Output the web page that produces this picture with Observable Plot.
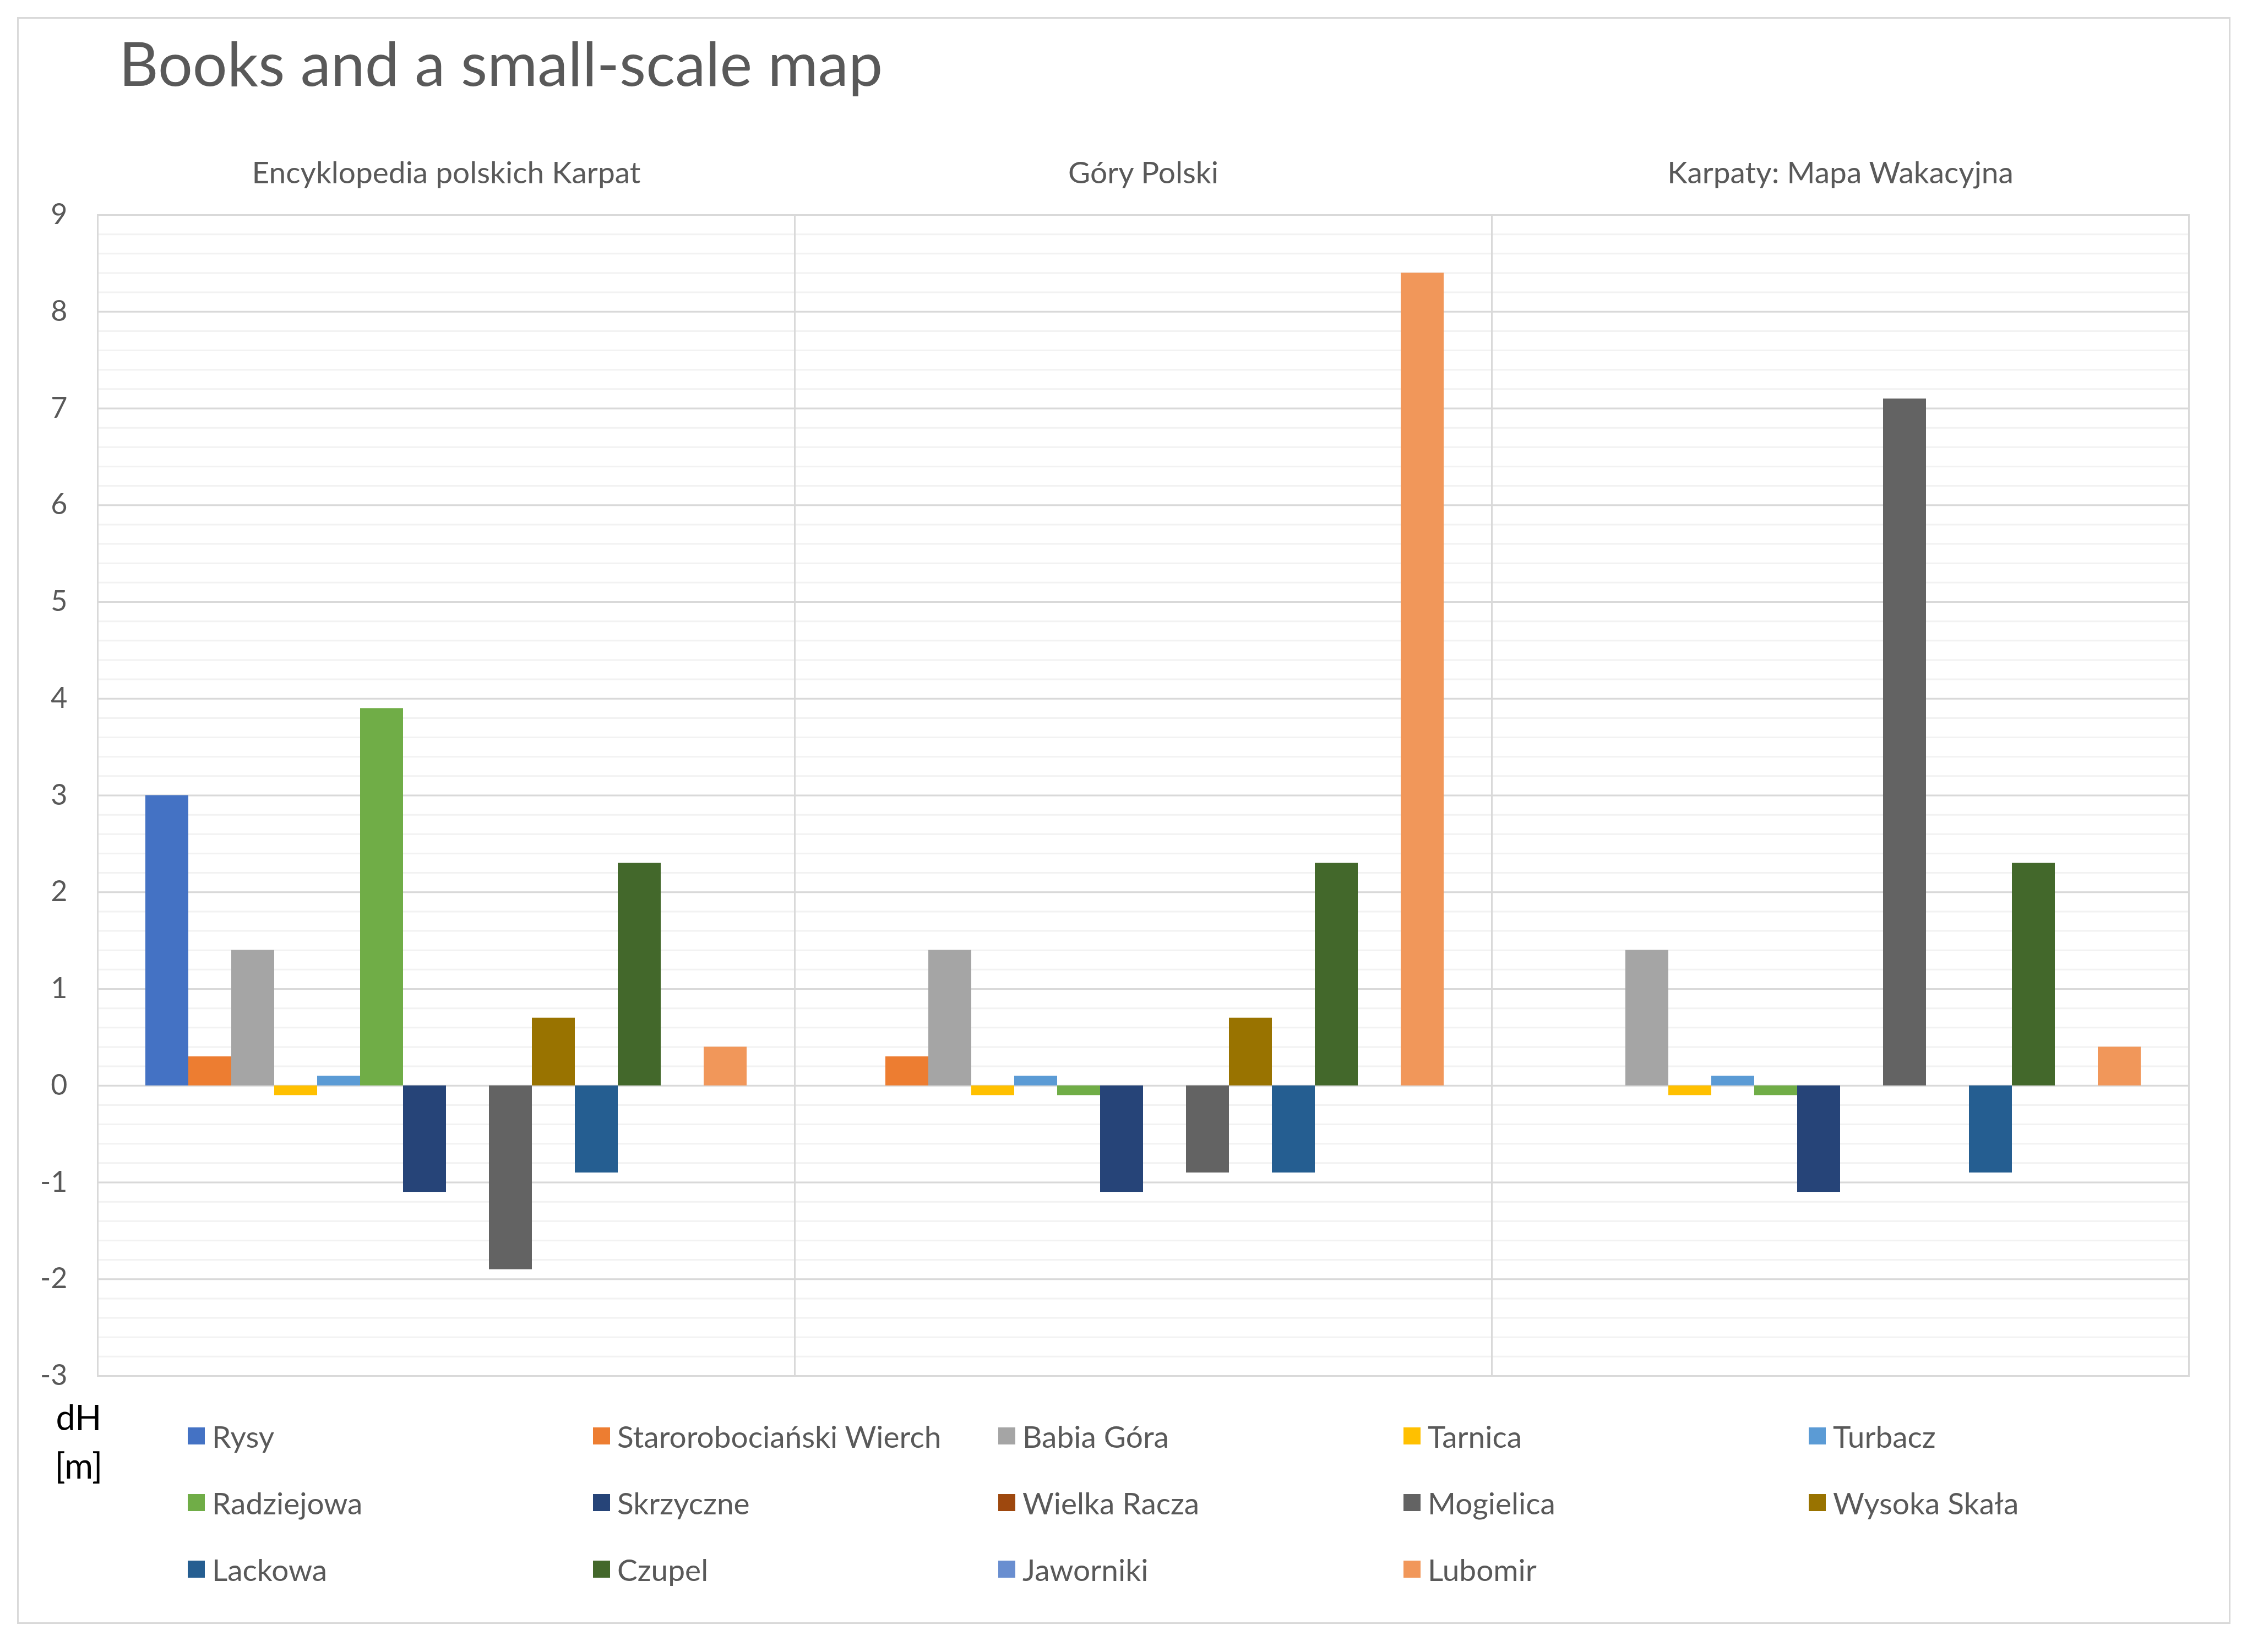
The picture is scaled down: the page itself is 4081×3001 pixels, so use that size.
<!DOCTYPE html>
<html>
<head>
<meta charset="utf-8">
<script src="https://cdn.jsdelivr.net/npm/d3@7"></script>
<script src="https://cdn.jsdelivr.net/npm/@observablehq/plot@0.6"></script>
<style>
  body { margin: 0; background: #fff; font-family: Lato, "Open Sans", sans-serif; }
  #chart { position: relative; width: 4081px; height: 3001px; overflow: hidden; }
  #border { position: absolute; left: 31px; top: 31px; width: 4014px; height: 2913px; border: 3px solid #d9d9d9; }
  #title { position: absolute; left: 216px; top: 58px; font-size: 111px; line-height: 1; color: #595959; white-space: nowrap; }
  #plot { position: absolute; left: 0; top: 0; }
  #unit { position: absolute; left: 93px; top: 2530px; width: 100px; text-align: center; font-size: 63px; line-height: 88px; color: #000; }
  #legend { position: absolute; left: 341px; top: 2548px; display: grid; grid-template-columns: repeat(5, 736px); grid-auto-rows: 121px; }
  .item { display: flex; align-items: center; font-size: 55px; color: #595959; white-space: nowrap; }
  .swatch { width: 31px; height: 31px; margin-right: 13px; flex: none; }
</style>
</head>
<body>
<div id="chart">
  <div id="border"></div>
  <div id="title">Books and a small-scale map</div>
  <div id="plot"></div>
  <div id="unit">dH<br>[m]</div>
  <div id="legend"></div>
</div>
<script>
// books (facets) and peaks (bars inside each facet)
const books = ["Encyklopedia polskich Karpat", "Góry Polski", "Karpaty: Mapa Wakacyjna"];
const peaks = ["Rysy", "Starorobociański Wierch", "Babia Góra", "Tarnica", "Turbacz",
  "Radziejowa", "Skrzyczne", "Wielka Racza", "Mogielica", "Wysoka Skała",
  "Lackowa", "Czupel", "Jaworniki", "Lubomir"];
const peakColors = ["#4472C4", "#ED7D31", "#A5A5A5", "#FFC000", "#5B9BD5",
  "#70AD47", "#264478", "#9E480E", "#636363", "#997300",
  "#255E91", "#43682B", "#698ED0", "#F1975A"];

// dH [m] per peak, one array per book (null = no bar)
const encyklopedia = [3.0, 0.3, 1.4, -0.1, 0.1, 3.9, -1.1, null, -1.9, 0.7, -0.9, 2.3, null, 0.4];
const goryPolski = [null, 0.3, 1.4, -0.1, 0.1, -0.1, -1.1, null, -0.9, 0.7, -0.9, 2.3, null, 8.4];
const mapaWakacyjna = [null, null, 1.4, -0.1, 0.1, -0.1, -1.1, null, 7.1, null, -0.9, 2.3, null, 0.4];

const yTicks = [-3, -2, -1, 0, 1, 2, 3, 4, 5, 6, 7, 8, 9];

const series = [encyklopedia, goryPolski, mapaWakacyjna];
const rows = [];
books.forEach((book, i) => {
  series[i].forEach((v, j) => {
    if (v != null) rows.push({book, peak: peaks[j], value: v});
  });
});

// minor gridlines every 0.2
const minorTicks = d3.ticks(-3, 9, 60);

const chart = Plot.plot({
  width: 4081,
  height: 2560,
  marginLeft: 177,
  marginRight: 106,
  marginTop: 390,
  marginBottom: 61,
  style: { fontFamily: "Lato, 'Open Sans', sans-serif", fontSize: "52px", color: "#595959", background: "transparent" },
  fx: { domain: books, padding: 0, label: null },
  x: { domain: peaks, paddingInner: 0, paddingOuter: 1.1, axis: null },
  y: { domain: [-3, 9], ticks: yTicks, tickSize: 0, tickPadding: 55, label: null, tickFormat: (d) => String(d) },
  color: { domain: peaks, range: peakColors },
  marks: [
    Plot.axisFx({ anchor: "top", tickSize: 0, tickPadding: 58, fontSize: 55, label: null }),
    Plot.ruleY(minorTicks, { stroke: "#f2f2f2", strokeWidth: 3 }),
    Plot.ruleY(yTicks, { stroke: "#d9d9d9", strokeWidth: 3 }),
    Plot.frame({ stroke: "#d9d9d9", strokeWidth: 3 }),
    Plot.barY(rows, { fx: "book", x: "peak", y: "value", fill: "peak" })
  ]
});
document.getElementById("plot").append(chart);

// legend: 5 columns, filled row by row
const legend = document.getElementById("legend");
peaks.forEach((p, i) => {
  const item = document.createElement("div");
  item.className = "item";
  const sw = document.createElement("span");
  sw.className = "swatch";
  sw.style.background = peakColors[i];
  item.append(sw, document.createTextNode(p));
  legend.append(item);
});
</script>
</body>
</html>
